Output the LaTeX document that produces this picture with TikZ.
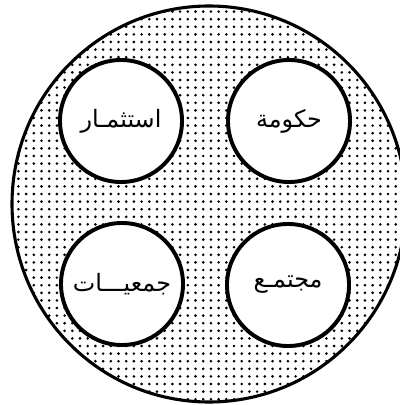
\documentclass[tikz,border=0pt]{standalone}
\usepackage{fontspec}
\newfontfamily\arabicfont[Script=Arabic]{DejaVu Sans}
\TeXXeTstate=1
\tikzset{
  ring/.style={circle,draw=black,line width=2.8pt,fill=white,minimum size=3.05cm,
               inner sep=0pt,font=\arabicfont\fontsize{17}{19}\selectfont},
  rim/.style={draw=black,line width=2.2pt},
}

\begin{document}
\begin{tikzpicture}[x=0.025cm,y=-0.025cm]
\useasboundingbox (0,0) rectangle (399,405);
% dotted field
\begin{scope}
\clip (209,204) circle [x radius=197,y radius=198];
\fill[black] \foreach \i in {0,...,52}{\foreach \j in {0,...,53}{(3+\i*7.7,4+\j*7.6) circle [radius=1.45]}};
\end{scope}
\draw[rim] (209,204) circle [x radius=197,y radius=198];
\foreach \name/\x/\y/\txt in {invest/121/121/استثمـار, gov/289/121/حكومة,
  assoc/122/284/جمعيـــات, society/288/285/مجتمـع}
  \node[ring] (\name) at (\x,\y) {\beginR\txt\endR};
\end{tikzpicture}
\end{document}
